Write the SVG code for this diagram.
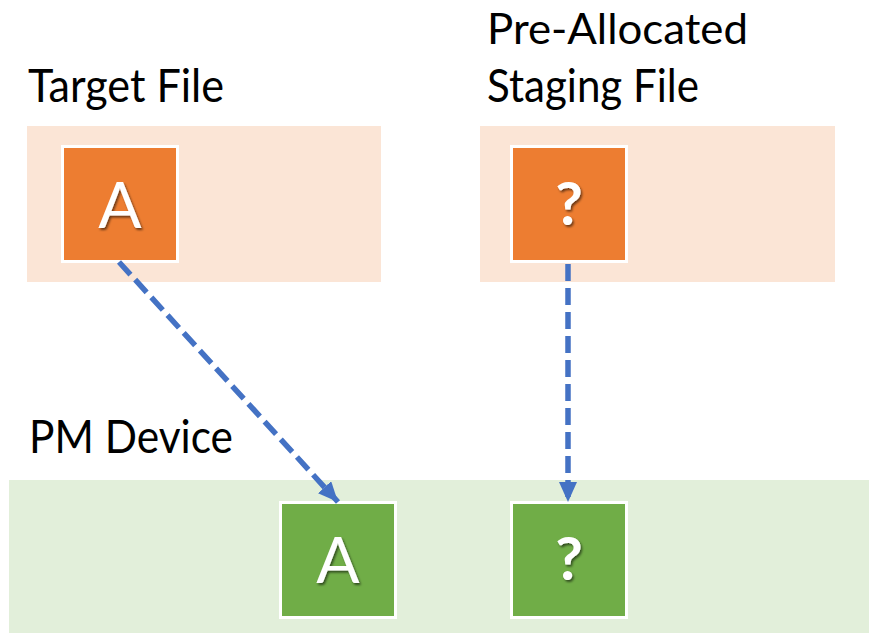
<svg xmlns="http://www.w3.org/2000/svg" width="869" height="635" viewBox="0 0 869 635">
  <style>
    .label { font-family: Lato, "Open Sans", "Liberation Sans", sans-serif; font-size: 47px; fill: #000; }
    .label-top { font-size: 43px; }
    .band-file { fill: #FBE5D6; }
    .band-pm { fill: #E2EFDA; }
    .block { stroke: #fff; stroke-width: 3; }
    .block-file { fill: #ED7D31; }
    .block-pm { fill: #70AD47; }
    .glyph { font-family: Lato, "Open Sans", "Liberation Sans", sans-serif; fill: #fff; text-anchor: middle; filter: url(#shadow); }
    .glyph-a { font-size: 64px; font-weight: 400; }
    .glyph-q { font-size: 60px; font-weight: 700; }
    .link { fill: none; stroke: #4472C4; stroke-width: 5.5; stroke-dasharray: 17 7; marker-end: url(#arrow); }
  </style>
  <defs>
    <filter id="shadow" x="-30%" y="-30%" width="160%" height="160%">
      <feDropShadow dx="1.5" dy="2" stdDeviation="1.2" flood-color="#000" flood-opacity="0.55"/>
    </filter>
    <marker id="arrow" markerUnits="userSpaceOnUse" viewBox="0 0 20 18" refX="20" refY="9" markerWidth="20" markerHeight="18" orient="auto">
      <path d="M0,0 L20,9 L0,18 Z" fill="#4472C4"/>
    </marker>
  </defs>

  <!-- backgrounds -->
  <rect class="band-file" x="27" y="126" width="354" height="156"/>
  <rect class="band-file" x="480" y="126" width="355" height="156"/>
  <rect class="band-pm" x="9" y="480" width="860" height="153"/>

  <!-- headings -->
  <text class="label" x="28" y="102" textLength="196" lengthAdjust="spacingAndGlyphs">Target File</text>
  <text class="label label-top" x="487" y="44" textLength="261" lengthAdjust="spacingAndGlyphs">Pre-Allocated</text>
  <text class="label" x="487" y="102" textLength="212" lengthAdjust="spacingAndGlyphs">Staging File</text>
  <text class="label" x="29" y="453" textLength="204" lengthAdjust="spacingAndGlyphs">PM Device</text>

  <g id="target-block-a">
    <rect class="block block-file" x="62.5" y="146.5" width="115" height="115"/>
    <text class="glyph glyph-a" x="120" y="228">A</text>
  </g>
  <g id="staging-block-q">
    <rect class="block block-file" x="511.5" y="146.5" width="115" height="115"/>
    <text class="glyph glyph-q" x="569" y="225">?</text>
  </g>
  <g id="pm-block-a">
    <rect class="block block-pm" x="280.5" y="502.5" width="115" height="115"/>
    <text class="glyph glyph-a" x="338" y="583">A</text>
  </g>
  <g id="pm-block-q">
    <rect class="block block-pm" x="511.5" y="502.5" width="115" height="115"/>
    <text class="glyph glyph-q" x="569" y="580">?</text>
  </g>

  <g id="connectors">
    <path class="link" d="M119,262 L338,502"/>
    <path class="link" d="M568,264 L568,502"/>
  </g>
</svg>
